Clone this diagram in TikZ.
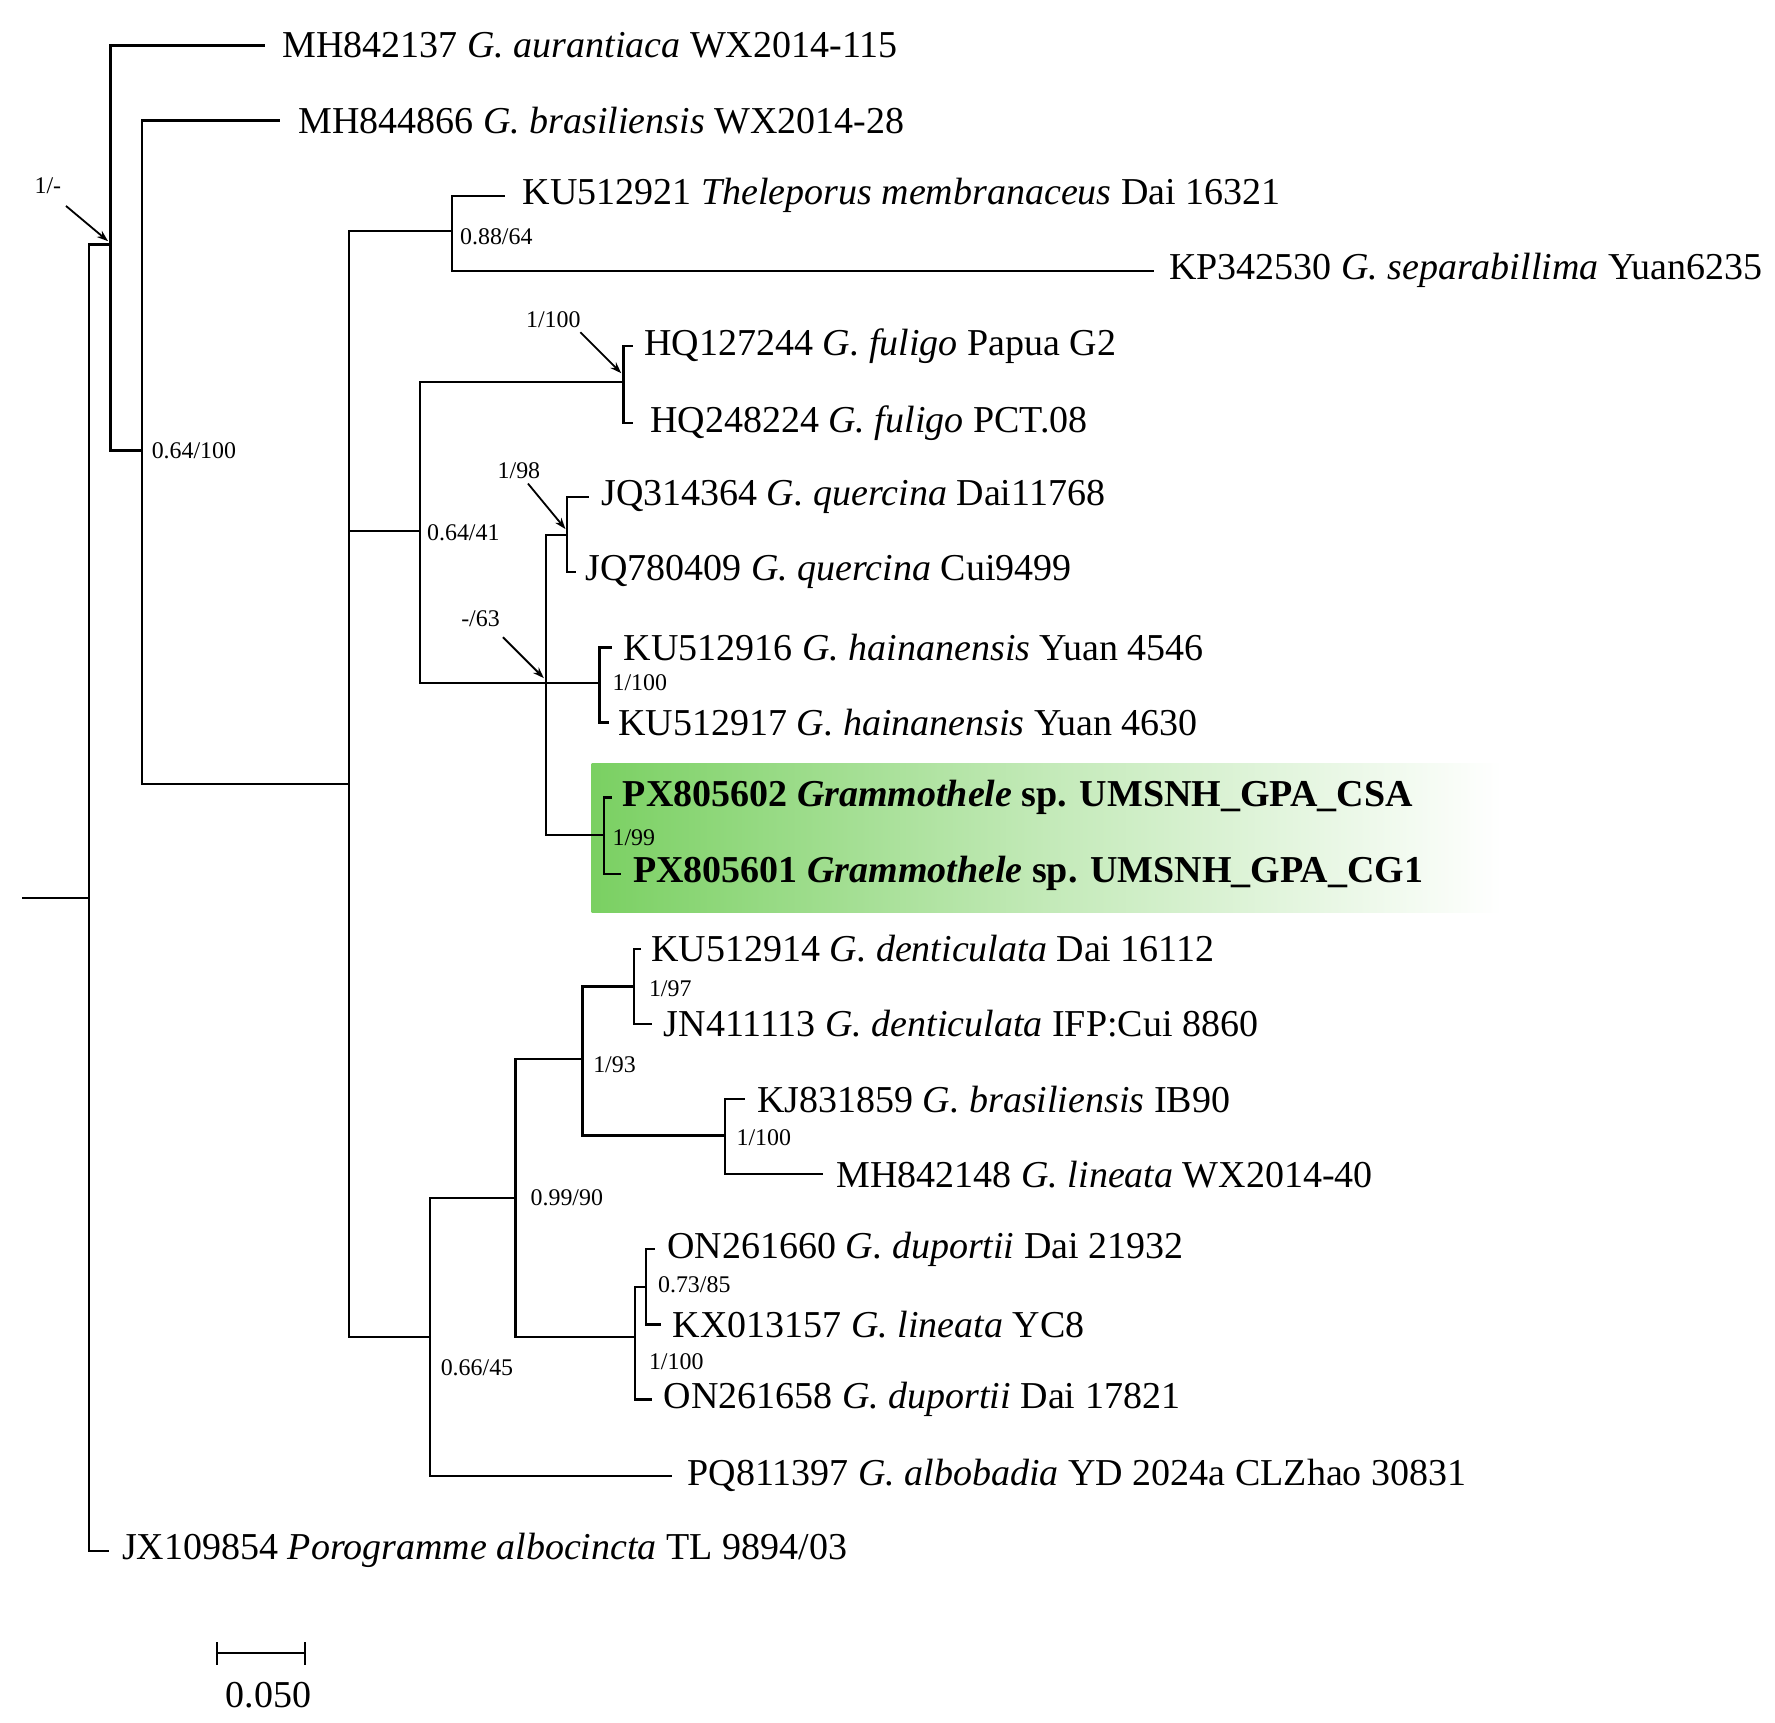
\documentclass[tikz,border=0pt]{standalone}
\usepackage{fontspec}
\setmainfont{Liberation Serif}
\usetikzlibrary{arrows.meta}
\definecolor{hl}{RGB}{122,208,98}
\begin{document}
\begin{tikzpicture}[x=0.5pt,y=-0.5pt,
  br/.style={line width=1pt,line cap=rect},
  tl/.style={anchor=west,inner sep=0pt,font=\fontsize{16.7}{18}\selectfont},
  sp/.style={anchor=west,inner sep=0pt,font=\fontsize{10.5}{12}\selectfont},
  ar/.style={-{Stealth[length=5pt,width=3.5pt]},line width=0.8pt}]
\useasboundingbox (0,0) rectangle (1560,1514);
\fill[left color=hl,right color=white,middle color=hl!45] (520,671) rectangle (1320,802);
% internal nodes
\coordinate (S) at (20,789);
\coordinate (R) at (78,789);
\coordinate (A) at (97,215);
\coordinate (B) at (125,396);
\coordinate (C) at (307,689);
\coordinate (D) at (397,203);
\coordinate (E) at (369,467);
\coordinate (F) at (548,336);
\coordinate (G) at (480,600);
\coordinate (H) at (498,470);
\coordinate (I) at (527,600);
\coordinate (J) at (531,734);
\coordinate (K) at (378,1175);
\coordinate (L) at (453,1053);
\coordinate (M) at (512,931);
\coordinate (N) at (557,867);
\coordinate (O) at (637,998);
\coordinate (P) at (558,1175);
\coordinate (Q) at (568,1131);
% tip ends
\coordinate (t1) at (232,40);
\coordinate (t2) at (245,106);
\coordinate (t3) at (443,172);
\coordinate (t4) at (1013,238);
\coordinate (t5) at (555,304);
\coordinate (t6) at (555,372);
\coordinate (t7) at (517,437);
\coordinate (t8) at (505,503);
\coordinate (t9) at (537,569);
\coordinate (t10) at (534,635);
\coordinate (t11) at (537,701);
\coordinate (t12) at (545,768);
\coordinate (t13) at (562,834);
\coordinate (t14) at (572,900);
\coordinate (t15) at (654,966);
\coordinate (t16) at (722,1032);
\coordinate (t17) at (575,1098);
\coordinate (t18) at (580,1164);
\coordinate (t19) at (572,1230);
\coordinate (t20) at (590,1297);
\coordinate (t21) at (95,1363);
% branches
\draw[br] (S) -- (R);
\draw[br] (R) |- (A); \draw[br] (R) |- (t21);
\draw[br] (A) |- (t1); \draw[br] (A) |- (B);
\draw[br] (B) |- (t2); \draw[br] (B) |- (C);
\draw[br] (C) |- (D); \draw[br] (C) |- (E); \draw[br] (C) |- (K);
\draw[br] (D) |- (t3); \draw[br] (D) |- (t4);
\draw[br] (E) |- (F); \draw[br] (E) |- (G);
\draw[br] (F) |- (t5); \draw[br] (F) |- (t6);
\draw[br] (G) |- (H); \draw[br] (G) |- (I); \draw[br] (G) |- (J);
\draw[br] (H) |- (t7); \draw[br] (H) |- (t8);
\draw[br] (I) |- (t9); \draw[br] (I) |- (t10);
\draw[br] (J) |- (t11); \draw[br] (J) |- (t12);
\draw[br] (K) |- (L); \draw[br] (K) |- (t20);
\draw[br] (L) |- (M); \draw[br] (L) |- (P);
\draw[br] (M) |- (N); \draw[br] (M) |- (O);
\draw[br] (N) |- (t13); \draw[br] (N) |- (t14);
\draw[br] (O) |- (t15); \draw[br] (O) |- (t16);
\draw[br] (P) |- (Q); \draw[br] (P) |- (t19);
\draw[br] (Q) |- (t17); \draw[br] (Q) |- (t18);
% tip labels
\node[tl] (l1) at (248,40) {MH842137 \textit{G. aurantiaca} WX2014-115};
\node[tl] (l2) at (262,106) {MH844866 \textit{G. brasiliensis} WX2014-28};
\node[tl] (l3) at (459,172) {KU512921 \textit{Theleporus membranaceus} Dai 16321};
\node[tl] (l4) at (1027,238) {KP342530 \textit{G. separabillima} Yuan6235};
\node[tl] (l5) at (566,304) {HQ127244 \textit{G. fuligo} Papua G2};
\node[tl] (l6) at (571,372) {HQ248224 \textit{G. fuligo} PCT.08};
\node[tl] (l7) at (528,437) {JQ314364 \textit{G. quercina} Dai11768};
\node[tl] (l8) at (514,503) {JQ780409 \textit{G. quercina} Cui9499};
\node[tl] (l9) at (548,569) {KU512916 \textit{G. hainanensis} Yuan 4546};
\node[tl] (l10) at (543,635) {KU512917 \textit{G. hainanensis} Yuan 4630};
\node[tl] (l11) at (547,701) {\textbf{PX805602 \textit{Grammothele} sp. UMSNH\_GPA\_CSA}};
\node[tl] (l12) at (556,768) {\textbf{PX805601 \textit{Grammothele} sp. UMSNH\_GPA\_CG1}};
\node[tl] (l13) at (572,834) {KU512914 \textit{G. denticulata} Dai 16112};
\node[tl] (l14) at (583,900) {JN411113 \textit{G. denticulata} IFP:Cui 8860};
\node[tl] (l15) at (665,966) {KJ831859 \textit{G. brasiliensis} IB90};
\node[tl] (l16) at (735,1032) {MH842148 \textit{G. lineata} WX2014-40};
\node[tl] (l17) at (586,1098) {ON261660 \textit{G. duportii} Dai 21932};
\node[tl] (l18) at (591,1164) {KX013157 \textit{G. lineata} YC8};
\node[tl] (l19) at (583,1230) {ON261658 \textit{G. duportii} Dai 17821};
\node[tl] (l20) at (604,1297) {PQ811397 \textit{G. albobadia} YD 2024a CLZhao 30831};
\node[tl] (l21) at (107,1363) {JX109854 \textit{Porogramme albocincta} TL 9894/03};
% support values
\node[sp] (s1) at (30,163) {1/-};
\node[sp] (s2) at (133,396) {0.64/100};
\node[sp] (s3) at (404,208) {0.88/64};
\node[sp] (s4) at (462,281) {1/100};
\node[sp] (s5) at (375,468) {0.64/41};
\node[sp] (s6) at (437,414) {1/98};
\node[sp] (s7) at (405,544) {-/63};
\node[sp] (s8) at (538,600) {1/100};
\node[sp] (s9) at (538,736) {1/99};
\node[sp] (s10) at (570,869) {1/97};
\node[sp] (s11) at (521,936) {1/93};
\node[sp] (s12) at (647,1000) {1/100};
\node[sp] (s13) at (466,1053) {0.99/90};
\node[sp] (s14) at (578,1129) {0.73/85};
\node[sp] (s15) at (570,1197) {1/100};
\node[sp] (s16) at (387,1202) {0.66/45};
% arrows
\coordinate (a1) at (58,181); \coordinate (a1e) at (95,212);
\coordinate (a2) at (510,292); \coordinate (a2e) at (546,328);
\coordinate (a3) at (464,425); \coordinate (a3e) at (497,465);
\coordinate (a4) at (442,560); \coordinate (a4e) at (478,596);
\draw[ar] (a1) -- (a1e);
\draw[ar] (a2) -- (a2e);
\draw[ar] (a3) -- (a3e);
\draw[ar] (a4) -- (a4e);
% scale bar
\coordinate (b1) at (191,1453); \coordinate (b2) at (268,1453);
\draw[br] (b1) -- (b2);
\draw[br] ([yshift=9*0.5pt]b1) -- ([yshift=-9*0.5pt]b1);
\draw[br] ([yshift=9*0.5pt]b2) -- ([yshift=-9*0.5pt]b2);
\node[font=\fontsize{16.7}{18}\selectfont] (sc) at (236,1490) {0.050};
\end{tikzpicture}
\end{document}
